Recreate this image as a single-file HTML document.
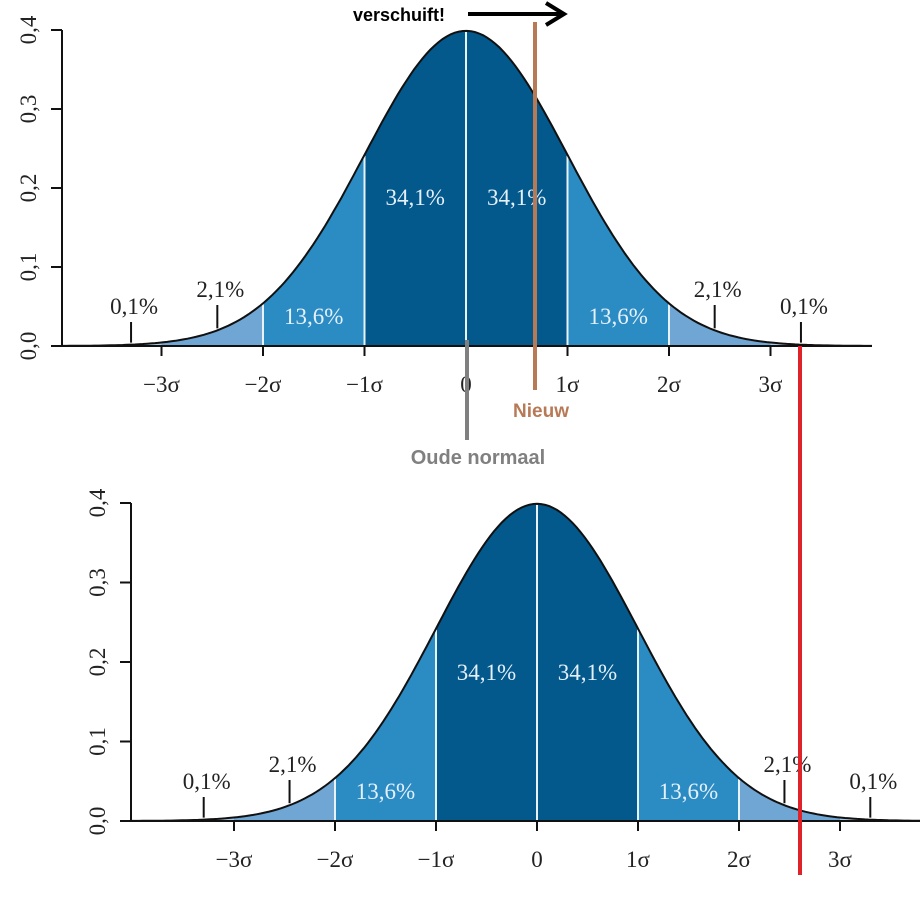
<!DOCTYPE html>
<html><head><meta charset="utf-8">
<style>
html,body{margin:0;padding:0;background:#fff;}
svg{display:block;}
text{font-family:"Liberation Serif",serif;}
.ann{font-family:"Liberation Sans",sans-serif;font-weight:bold;}
</style></head>
<body>
<svg id="c" width="920" height="920" viewBox="0 0 920 920" xmlns="http://www.w3.org/2000/svg"></svg>
<script>
const yTicks=[0,0.1,0.2,0.3,0.4];
const yTickLabels=["0,0","0,1","0,2","0,3","0,4"];
const xTicks=[-3,-2,-1,0,1,2,3];
const xTickLabels=["\u22123\u03c3","\u22122\u03c3","\u22121\u03c3","0","1\u03c3","2\u03c3","3\u03c3"];
const bandEdges=[-4,-3,-2,-1,0,1,2,3,4];
const bandColors=["#a9c8e4","#6fa6d3","#2b8bc3","#03588c","#03588c","#2b8bc3","#6fa6d3","#a9c8e4"];
const innerPct=["13,6%","34,1%","34,1%","13,6%"];
const innerPctX=[-1.5,-0.5,0.5,1.5];
const tailPct=["0,1%","2,1%","2,1%","0,1%"];
const tailPctX=[-3.3,-2.45,2.45,3.3];

const NS="http://www.w3.org/2000/svg";
const svg=document.getElementById('c');
function el(tag,attrs,parent){const e=document.createElementNS(NS,tag);for(const k in attrs)e.setAttribute(k,attrs[k]);(parent||svg).appendChild(e);return e;}
function pdf(z){return Math.exp(-z*z/2)/Math.sqrt(2*Math.PI);}

function chart(name,x0,sig,yBase,yScale,axisX,xMin,xMax){
  const g=el('g',{});
  
  
  const X=z=>x0+z*sig, Y=v=>yBase-v*yScale;
  for(let i=0;i<bandEdges.length-1;i++){
    const a=Math.max(bandEdges[i],(xMin-x0)/sig),b=Math.min(bandEdges[i+1],(xMax-x0)/sig);
    let d=`M${X(a)},${yBase}`;
    for(let k=0;k<=40;k++){const z=a+(b-a)*k/40;d+=` L${X(z).toFixed(1)},${Y(pdf(z)).toFixed(1)}`;}
    d+=` L${X(b)},${yBase} Z`;
    const p=el('path',{d:d,fill:bandColors[i]},g);
    
    
  }
  for(const e of [-2,-1,0,1,2]){
    const l=el('line',{x1:X(e),x2:X(e),y1:yBase,y2:Y(pdf(e))+1,stroke:'#e8f2fa','stroke-width':2},g);
    
    
  }
  let d='';
  const zs=(xMin-x0)/sig, ze=(xMax-x0)/sig;
  for(let k=0;k<=200;k++){const z=zs+(ze-zs)*k/200;d+=(k?' L':'M')+X(z).toFixed(1)+','+Y(pdf(z)).toFixed(1);}
  const cv=el('path',{d:d,fill:'none',stroke:'#111','stroke-width':2},g);
  
  
  const ax=el('line',{x1:axisX,x2:xMax,y1:yBase,y2:yBase,stroke:'#111','stroke-width':2},g);
  
  
  const ay=el('line',{x1:axisX,x2:axisX,y1:Y(0.4),y2:yBase,stroke:'#111','stroke-width':2},g);
  
  
  yTicks.forEach((v,i)=>{
    el('line',{x1:axisX-11,x2:axisX,y1:Y(v),y2:Y(v),stroke:'#111','stroke-width':2},g);
    const t=el('text',{x:0,y:0,transform:`translate(${axisX-26},${Y(v)}) rotate(-90)`,'text-anchor':'middle','font-size':23,fill:'#222'},g);
    t.textContent=yTickLabels[i];
    
    
  });
  xTicks.forEach((v,i)=>{
    el('line',{x1:X(v),x2:X(v),y1:yBase,y2:yBase+10,stroke:'#111','stroke-width':2},g);
    const t=el('text',{x:X(v),y:yBase+46,'text-anchor':'middle','font-size':23,fill:'#222'},g);
    t.textContent=xTickLabels[i];
    
    
  });
  innerPct.forEach((s,i)=>{
    const z=innerPctX[i];
    const y=Math.abs(z)<1?yBase-141:yBase-22;
    const t=el('text',{x:X(z),y:y,'text-anchor':'middle','font-size':23,fill:'#e4f0fa'},g);
    t.textContent=s;
    
    
  });
  tailPct.forEach((s,i)=>{
    const z=tailPctX[i];
    const outer=Math.abs(z)>3;
    const tipY=Y(pdf(z))-2, topY=outer?yBase-24:yBase-41;
    el('line',{x1:X(z),x2:X(z),y1:topY,y2:tipY,stroke:'#111','stroke-width':2},g);
    const t=el('text',{x:X(z)+3,y:topY-8,'text-anchor':'middle','font-size':23,fill:'#222'},g);
    t.textContent=s;
    
    
  });
}
chart('top-chart',466,101.5,346,790,62,62,872);
chart('bottom-chart',537,101,821,795,131,131,920);

function line(n,x1,y1,x2,y2,c,w){const l=el('line',{x1,y1,x2,y2,stroke:c,'stroke-width':w});return l;}
line('old-mean-marker',467,340,467,440,'#808080',4);
line('new-mean-marker',535,22,535,390,'#b87a56',4);
line('shift-threshold-line',800,346,800,875,'#e0222b',4);
line('shift-arrow-shaft',468,14,563,14,'#000',4);
const ah=el('path',{d:'M546,3 L564,14 L546,25',fill:'none',stroke:'#000','stroke-width':4});


function txt(n,x,y,s,c,size,anchor){const t=el('text',{x,y,fill:c,'font-size':size,'text-anchor':anchor||'start',class:'ann'});t.textContent=s;}
txt('shift-label',353,21,'verschuift!','#000',18);
txt('new-label',541,417,'Nieuw','#b87a56',19,'middle');
txt('old-label',478,464,'Oude normaal','#808080',20,'middle');
</script>
</body></html>
